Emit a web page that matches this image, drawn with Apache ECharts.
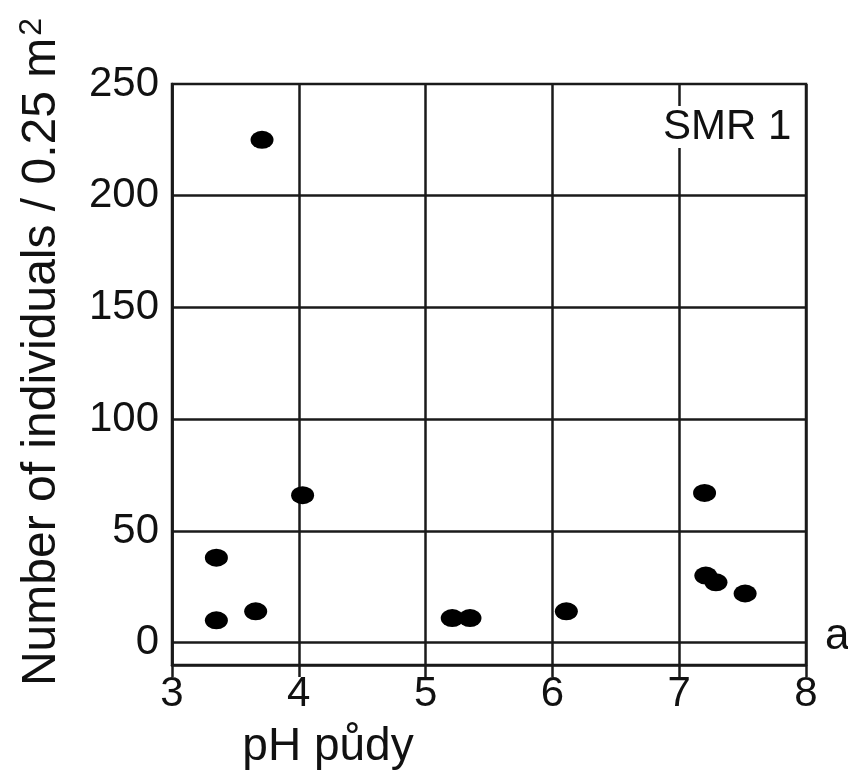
<!DOCTYPE html>
<html>
<head>
<meta charset="utf-8">
<script src="https://cdn.jsdelivr.net/npm/echarts@6/dist/echarts.min.js"></script>
<style>html,body{margin:0;padding:0;background:#fff}#c{width:848px;height:778px}</style>
</head>
<body>
<div id="c"></div>
<script>
var phValues = [3.71, 3.35, 3.35, 3.66, 4.03, 5.21, 5.35, 6.11, 7.20, 7.21, 7.29, 7.52];
var counts   = [225, 38, 10, 14, 66, 11, 11, 14, 67, 30, 27, 22];
var gridLevels = [0, 50, 100, 150, 200];
var xTicks = [3, 4, 5, 6, 7, 8];
var yTicks = [0, 50, 100, 150, 200, 250];
var panelLabel = 'SMR 1';
var cornerLabel = 'a';
var xTitle = 'pH půdy';
var yTitleMain = 'Number of individuals / 0.25 m';
var yTitleSup = '2';

var FONT = 'Liberation Sans, Arial, sans-serif';
var INK = '#1a1a1a';
var chart = echarts.init(document.getElementById('c'));
var pts = phValues.map(function (x, i) { return [x, counts[i]]; });

chart.setOption({
  animation: false,
  backgroundColor: '#fff',
  grid: { left: 172, right: 42, top: 84, bottom: 113, show: true, borderColor: INK, borderWidth: 2.5, backgroundColor: 'transparent' },
  xAxis: {
    type: 'value', min: 3, max: 8, interval: 1,
    axisLine: { show: true, onZero: false, lineStyle: { color: INK, width: 2.5 } },
    axisTick: { show: true, length: 12, lineStyle: { color: INK, width: 2.5 } },
    splitLine: { show: true, lineStyle: { color: INK, width: 2.5 } },
    axisLabel: { color: '#111', fontSize: 42, fontFamily: FONT, margin: 8,
      formatter: function (v) { return xTicks.indexOf(v) >= 0 ? String(v) : ''; } }
  },
  yAxis: {
    type: 'value', min: -10, max: 250, interval: 10,
    axisLine: { show: true, onZero: false, lineStyle: { color: INK, width: 2.5 } },
    axisTick: { show: false },
    splitLine: { show: false },
    axisLabel: { color: '#111', fontSize: 42, fontFamily: FONT, margin: 13,
      formatter: function (v) { return yTicks.indexOf(v) >= 0 ? String(v) : ''; } }
  },
  series: [{
    type: 'scatter',
    data: pts,
    symbol: 'circle',
    symbolSize: [23, 18],
    itemStyle: { color: '#000', opacity: 1 },
    z: 5,
    markLine: {
      silent: true, symbol: 'none', label: { show: false },
      lineStyle: { color: INK, width: 2.5, type: 'solid' },
      data: gridLevels.map(function (v) { return { yAxis: v }; }),
      z: 1
    }
  }],
  graphic: [
    { type: 'text', left: 661, top: 106, z: 10,
      style: { text: panelLabel, fontSize: 42, fontFamily: FONT, fill: '#111', backgroundColor: '#fff', padding: [0, 2, 0, 2] } },
    { type: 'text', x: 825, y: 637, z: 10,
      style: { text: cornerLabel, fontSize: 44, fontFamily: FONT, fill: '#111', textVerticalAlign: 'middle' } },
    { type: 'text', x: 328, y: 747, z: 10,
      style: { text: xTitle, fontSize: 46, fontFamily: FONT, fill: '#111', textAlign: 'center', textVerticalAlign: 'middle' } },
    { type: 'text', x: 42, y: 352, rotation: Math.PI / 2, z: 10,
      style: {
        text: '{n|' + yTitleMain + '}{s|' + yTitleSup + '}',
        fontFamily: FONT, fill: '#111', textAlign: 'center', textVerticalAlign: 'middle',
        rich: {
          n: { fontSize: 48, fontFamily: FONT, fill: '#111' },
          s: { fontSize: 32, fontFamily: FONT, fill: '#111', padding: [0, 0, 20, 2] }
        }
      } }
  ]
});
</script>
</body>
</html>
